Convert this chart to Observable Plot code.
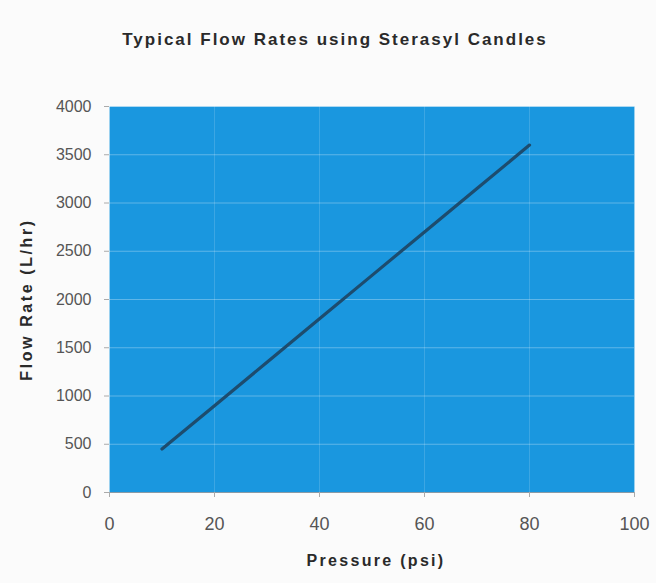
<!DOCTYPE html>
<html>
<head>
<meta charset="utf-8">
<script src="https://cdn.jsdelivr.net/npm/d3@7"></script>
<script src="https://cdn.jsdelivr.net/npm/@observablehq/plot@0.6"></script>
<style>
  html, body { margin: 0; padding: 0; background: #fbfbfb; }
  #wrap { width: 656px; height: 583px; position: relative; overflow: hidden; }
  #title { height: 60px; box-sizing: border-box; padding-top: 30px; padding-left: 14px; text-align: center; font-family: "Liberation Sans", Arial, sans-serif; font-weight: bold; font-size: 17px; color: #2a2a2a; letter-spacing: 2px; line-height: 20px; white-space: nowrap; }
</style>
</head>
<body>
<div id="wrap">
  <div id="title">Typical Flow Rates using Sterasyl Candles</div>
  <div id="chart"></div>
</div>
<script>
const pressure = [10, 20, 30, 40, 50, 60, 70, 80];
const flowRate = [450, 900, 1350, 1800, 2250, 2700, 3150, 3600];
const xTicks = [0, 20, 40, 60, 80, 100];
const yTicks = [0, 500, 1000, 1500, 2000, 2500, 3000, 3500, 4000];

const data = pressure.map((p, i) => ({p, f: flowRate[i]}));

const chart = Plot.plot({
  width: 656,
  height: 523,
  marginLeft: 109,
  marginRight: 22,
  marginTop: 46,
  marginBottom: 91,
  style: {fontFamily: "'Liberation Sans', Arial, sans-serif", fontSize: "15px", color: "#555", background: "transparent"},
  x: {domain: [0, 100], ticks: xTicks, label: null},
  y: {domain: [0, 4000], ticks: yTicks, label: null},
  marks: [
    Plot.frame({fill: "#1a97df", stroke: null}),
    Plot.gridY(yTicks, {stroke: "#ffffff", strokeOpacity: 0.3, strokeWidth: 1.2}),
    Plot.gridX(xTicks, {stroke: "#ffffff", strokeOpacity: 0.15, strokeWidth: 1}),
    Plot.ruleY([0], {stroke: "#8a9aa5", strokeWidth: 1}),
    Plot.axisY(yTicks, {tickSize: 5, tickPadding: 13, stroke: "#aaa", fill: "#555", fontSize: 16, label: null, tickFormat: d => String(d)}),
    Plot.axisX(xTicks, {tickSize: 5, tickPadding: 20, stroke: "#aaa", fill: "#555", fontSize: 18, label: null, tickFormat: d => String(d)}),
    Plot.line(data, {x: "p", y: "f", stroke: "#1d4c6e", strokeWidth: 3.2}),
    Plot.text(["Pressure (psi)"], {frameAnchor: "bottom", dy: 73, dx: 4, text: d => d, textAnchor: "middle", fontWeight: "bold", fontSize: 16, fill: "#2a2a2a"}),
    Plot.text(["Flow Rate (L/hr)"], {frameAnchor: "left", dx: -83, rotate: -90, text: d => d, textAnchor: "middle", fontWeight: "bold", fontSize: 16, fill: "#2a2a2a"})
  ]
});
chart.querySelectorAll("text").forEach(t => {
  if (t.textContent === "Pressure (psi)") t.style.letterSpacing = "2.3px";
  if (t.textContent === "Flow Rate (L/hr)") t.style.letterSpacing = "2.6px";
});
document.getElementById("chart").appendChild(chart);
</script>
</body>
</html>
